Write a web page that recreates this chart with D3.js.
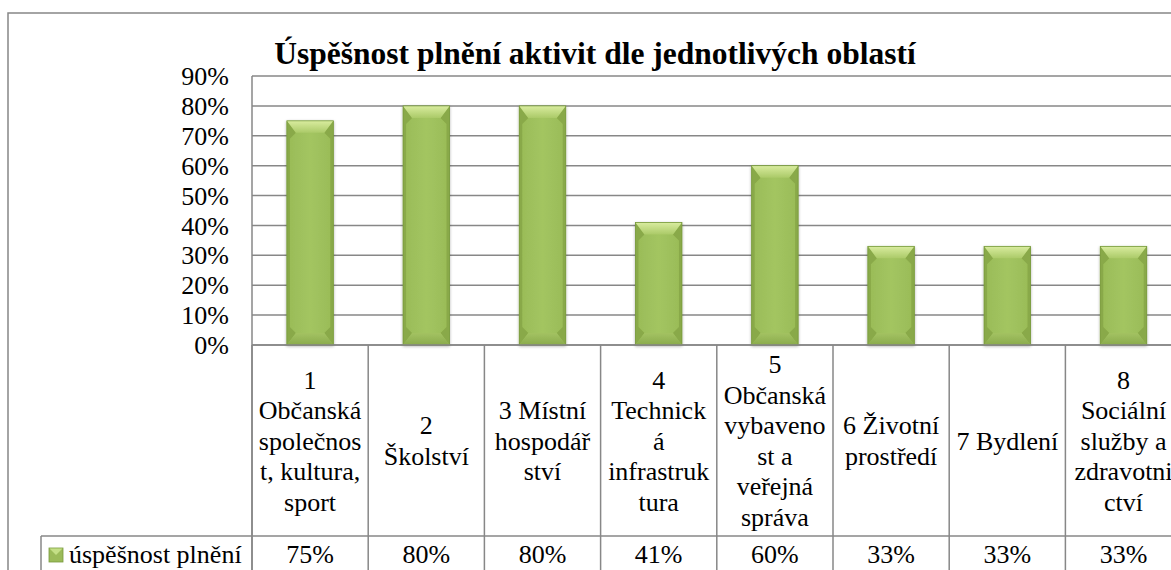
<!DOCTYPE html>
<html>
<head>
<meta charset="utf-8">
<script src="https://cdn.jsdelivr.net/npm/d3@7"></script>
<style>
  html, body { margin: 0; padding: 0; background: #fff; overflow: hidden; }
  svg { display: block; }
</style>
</head>
<body>
<svg id="chart" width="1171" height="570" font-family="Liberation Serif"></svg>
<script>
// ---- data ----
const title = "Úspěšnost plnění aktivit dle jednotlivých oblastí";
const seriesName = "úspěšnost plnění";
const categories = [
  "1 Občanská společnost, kultura, sport",
  "2 Školství",
  "3 Místní hospodářství",
  "4 Technická infrastruktura",
  "5 Občanská vybavenost a veřejná správa",
  "6 Životní prostředí",
  "7 Bydlení",
  "8 Sociální služby a zdravotnictví"
];
const categoryLines = [
  ["1", "Občanská", "společnos", "t, kultura,", "sport"],
  ["2", "Školství"],
  ["3 Místní", "hospodář", "ství"],
  ["4", "Technick", "á", "infrastruk", "tura"],
  ["5", "Občanská", "vybaveno", "st a", "veřejná", "správa"],
  ["6 Životní", "prostředí"],
  ["7 Bydlení"],
  ["8", "Sociální", "služby a", "zdravotni", "ctví"]
];
const values = [0.75, 0.80, 0.80, 0.41, 0.60, 0.33, 0.33, 0.33];
const yTicks = [0, 0.1, 0.2, 0.3, 0.4, 0.5, 0.6, 0.7, 0.8, 0.9];

// ---- layout ----
const FONT = "Liberation Serif";
const svg = d3.select("#chart");
const gridColor = "#878787";
const plotLeft = 252, plotTop = 76, plotBottom = 345;
const step = 116.2;
const plotRight = plotLeft + step * categories.length;
const headerBottom = 536;
const legendLeft = 41;
const fs = 26;

const y = d3.scaleLinear().domain([0, 0.9]).range([plotBottom, plotTop]);
const x = d3.scaleBand().domain(categories).range([plotLeft, plotRight])
  .paddingInner(0.6).paddingOuter(0.3);

// defs
const defs = svg.append("defs");
const gTop = defs.append("linearGradient").attr("id", "bevTop").attr("x1", 0).attr("y1", 0).attr("x2", 0).attr("y2", 1);
gTop.append("stop").attr("offset", "0%").attr("stop-color", "#d9ec9f");
gTop.append("stop").attr("offset", "100%").attr("stop-color", "#abca68");
const gBot = defs.append("linearGradient").attr("id", "bevBot").attr("x1", 0).attr("y1", 0).attr("x2", 0).attr("y2", 1);
gBot.append("stop").attr("offset", "0%").attr("stop-color", "#a3c262");
gBot.append("stop").attr("offset", "100%").attr("stop-color", "#8aab4c");
const gFace = defs.append("linearGradient").attr("id", "face").attr("x1", 0).attr("y1", 0).attr("x2", 1).attr("y2", 0);
gFace.append("stop").attr("offset", "0%").attr("stop-color", "#99bb57");
gFace.append("stop").attr("offset", "50%").attr("stop-color", "#a3c561");
gFace.append("stop").attr("offset", "100%").attr("stop-color", "#99bb57");
const shadow = defs.append("filter").attr("id", "shadow").attr("x", "-20%").attr("y", "-10%").attr("width", "140%").attr("height", "120%");
shadow.append("feGaussianBlur").attr("in", "SourceAlpha").attr("stdDeviation", 1.5);
shadow.append("feOffset").attr("dx", 0).attr("dy", 1).attr("result", "ob");
shadow.append("feComponentTransfer").append("feFuncA").attr("type", "linear").attr("slope", 0.3);
const fm = shadow.append("feMerge");
fm.append("feMergeNode");
fm.append("feMergeNode").attr("in", "SourceGraphic");

// outer chart border
svg.append("rect").attr("x", 8).attr("y", 13).attr("width", 1400).attr("height", 800)
  .attr("fill", "#fff").attr("stroke", gridColor).attr("stroke-width", 1.5);

// gridlines
svg.append("g").selectAll("line").data(yTicks).join("line")
  .attr("x1", plotLeft).attr("x2", plotRight)
  .attr("y1", d => y(d)).attr("y2", d => y(d))
  .attr("stroke", gridColor).attr("stroke-width", 1.5);

// plot left and right borders
svg.append("line").attr("x1", plotLeft).attr("x2", plotLeft).attr("y1", plotTop).attr("y2", 620)
  .attr("stroke", gridColor).attr("stroke-width", 1.5);
svg.append("line").attr("x1", plotRight).attr("x2", plotRight).attr("y1", plotTop).attr("y2", 620)
  .attr("stroke", gridColor).attr("stroke-width", 1.5);

// y axis labels
const yAxis = d3.axisLeft(y).tickValues(yTicks).tickFormat(d3.format(".0%")).tickSize(0).tickPadding(23);
const yg = svg.append("g").attr("transform", `translate(${plotLeft},0)`).call(yAxis);
yg.attr("font-family", FONT).attr("font-size", fs);
yg.select(".domain").remove();
yg.selectAll("text").attr("font-family", FONT).attr("font-size", fs).attr("fill", "#000")
  .attr("dy", "0.33em");

// bars with bevel
const bars = svg.append("g").selectAll("g").data(values).join("g")
  .attr("filter", "url(#shadow)");
bars.each(function(v, i) {
  const g = d3.select(this);
  const bx = x(categories[i]), bw = x.bandwidth();
  const by = y(v), bh = y(0) - y(v);
  const bt = 12, bs = 9, side = 3;
  g.append("rect").attr("x", bx).attr("y", by).attr("width", bw).attr("height", bh).attr("fill", "url(#face)");
  g.append("polygon").attr("points", [[bx, by], [bx + bs, by + bt], [bx + side, by + bt + 6], [bx + side, by + bh - bt - 6], [bx + bs, by + bh - bt], [bx, by + bh]].join(" "))
    .attr("fill", "#89a948");
  g.append("polygon").attr("points", [[bx + bw, by], [bx + bw - bs, by + bt], [bx + bw - side, by + bt + 6], [bx + bw - side, by + bh - bt - 6], [bx + bw - bs, by + bh - bt], [bx + bw, by + bh]].join(" "))
    .attr("fill", "#89a948");
  g.append("polygon").attr("points", [[bx, by], [bx + bw, by], [bx + bw - bs, by + bt], [bx + bs, by + bt]].join(" "))
    .attr("fill", "url(#bevTop)");
  g.append("polygon").attr("points", [[bx + bs, by + bh - bt], [bx + bw - bs, by + bh - bt], [bx + bw, by + bh], [bx, by + bh]].join(" "))
    .attr("fill", "url(#bevBot)");
  g.append("rect").attr("x", bx).attr("y", by).attr("width", bw).attr("height", bh)
    .attr("fill", "none").attr("stroke", "#789a3c").attr("stroke-width", 0.8);
});

// axis line at 0
svg.append("line").attr("x1", plotLeft).attr("x2", plotRight).attr("y1", plotBottom).attr("y2", plotBottom)
  .attr("stroke", gridColor).attr("stroke-width", 1.5);

// data table
const bounds = d3.range(categories.length + 1).map(i => plotLeft + i * x.step());
svg.append("g").selectAll("line").data(bounds).join("line")
  .attr("x1", d => d).attr("x2", d => d).attr("y1", plotBottom).attr("y2", 620)
  .attr("stroke", gridColor).attr("stroke-width", 1.5);
svg.append("line").attr("x1", legendLeft).attr("x2", plotRight).attr("y1", headerBottom).attr("y2", headerBottom)
  .attr("stroke", gridColor).attr("stroke-width", 1.5);
svg.append("line").attr("x1", legendLeft).attr("x2", legendLeft).attr("y1", headerBottom).attr("y2", 620)
  .attr("stroke", gridColor).attr("stroke-width", 1.5);

// category labels
const lh = 30.5, headerCenter = 441;
const cg = svg.append("g").selectAll("text").data(categories).join("text")
  .attr("text-anchor", "middle").attr("font-family", FONT).attr("font-size", fs).attr("fill", "#000");
cg.each(function(c, i) {
  const t = d3.select(this);
  const lines = categoryLines[i];
  const cx = x(c) + x.bandwidth() / 2;
  lines.forEach((ln, k) => {
    t.append("tspan").attr("x", cx)
      .attr("y", headerCenter + (k - (lines.length - 1) / 2) * lh + 8.5)
      .text(ln);
  });
});

// legend row
const rowBase = 563;
svg.append("rect").attr("x", 49).attr("y", 548).attr("width", 14).attr("height", 14)
  .attr("fill", "#9bbb59").attr("stroke", "#789a3c").attr("stroke-width", 0.8);
svg.append("polygon").attr("points", "49.5,548.5 62.5,548.5 56,555").attr("fill", "#c4df86");
svg.append("text").attr("x", 69).attr("y", rowBase).attr("font-family", FONT).attr("font-size", fs)
  .attr("fill", "#000").text(seriesName);
svg.append("g").selectAll("text").data(values).join("text")
  .attr("x", (d, i) => x(categories[i]) + x.bandwidth() / 2)
  .attr("y", rowBase).attr("text-anchor", "middle").attr("font-family", FONT).attr("font-size", fs)
  .attr("fill", "#000").text(d => d3.format(".0%")(d));

// title
svg.append("text").attr("x", 595).attr("y", 64).attr("text-anchor", "middle")
  .attr("font-family", FONT).attr("font-size", 31.5).attr("font-weight", "bold")
  .attr("fill", "#000").text(title);
</script>
</body>
</html>
